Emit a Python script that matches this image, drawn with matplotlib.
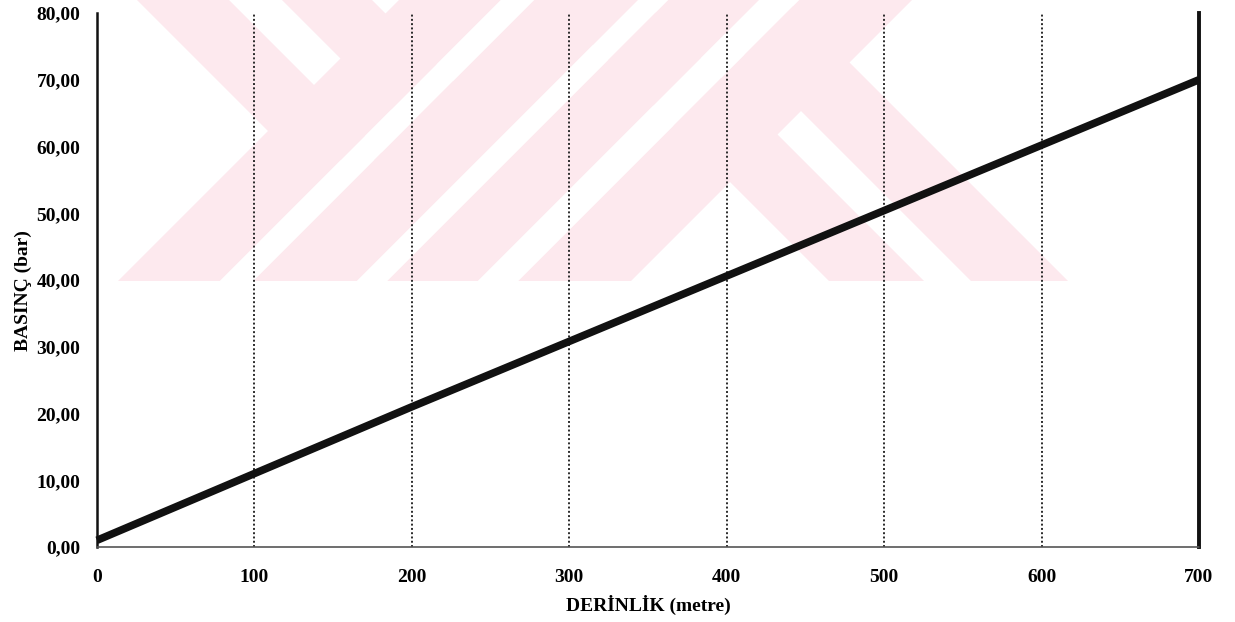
import matplotlib
matplotlib.use("Agg")
import matplotlib.pyplot as plt
from matplotlib.patches import Polygon, Rectangle

# chart data
depth = [0, 100, 200, 300, 400, 500, 600, 700]
pressure = [1.0, 11.0, 21.0, 30.8, 40.6, 50.4, 60.2, 70.0]
x_ticks = [0, 100, 200, 300, 400, 500, 600, 700]
y_ticks = [0, 10, 20, 30, 40, 50, 60, 70, 80]
x_label = "DERİNLİK (metre)"
y_label = "BASINÇ (bar)"

W, H = 1235, 622
fig = plt.figure(figsize=(W / 100, H / 100), dpi=100)

# --- faint pink watermark behind the chart (pixel coords, y down) ---
TOP, BOT = 0, 281
D = BOT - TOP
PINK = "#fde9ee"


def to_fig(pts):
    return [(x / W, 1 - y / H) for x, y in pts]


def fwd(x0, x1):
    # "/" band, x range given at the bottom edge
    return [(x0, BOT), (x1, BOT), (x1 + D, TOP), (x0 + D, TOP)]


def back(x0, x1, y_end=BOT):
    # "\" band, x range given at the top edge, cut at y_end
    return [(x0, TOP), (x1, TOP), (x1 + y_end, y_end), (x0 + y_end, y_end)]


clip = Rectangle((0, 1 - BOT / H), 1, BOT / H, transform=fig.transFigure)


def add_shape(pts, color):
    p = Polygon(to_fig(pts), closed=True, transform=fig.transFigure,
                facecolor=color, edgecolor="none", zorder=-2)
    fig.add_artist(p)
    p.set_clip_path(clip)


for a, b, e in [(137, 229, 160), (282, 372, 120), (548, 643, BOT), (690, 787, BOT)]:
    add_shape(back(a, b, e), PINK)
for a, b in [(118, 220), (253, 357), (387, 478), (518, 631)]:
    add_shape(fwd(a, b), PINK)
for a, b in [(220, 253), (357, 387), (478, 518)]:
    add_shape(fwd(a, b), "white")

# --- axes ---
ax = fig.add_axes([0.0785, 0.1206, 0.8923, 0.8585])
ax.set_facecolor("none")

font = dict(family="Liberation Serif", weight="bold", size=14)

for x in x_ticks[1:-1]:
    ax.axvline(x, color="#2a2a2a", lw=1.4, ls=(0, (1, 1.2)), zorder=1)

ax.plot(depth, pressure, color="#111111", lw=5.5, solid_capstyle="butt",
        zorder=3, clip_on=False)

ax.set_xlim(0, 700)
ax.set_ylim(0, 80)
ax.set_xticks(x_ticks)
ax.set_yticks(y_ticks)
ax.set_xticklabels([str(v) for v in x_ticks], **font)
ax.set_yticklabels([f"{v:.2f}".replace(".", ",") for v in y_ticks], **font)
ax.tick_params(axis="both", length=0)
ax.tick_params(axis="x", pad=16)
ax.tick_params(axis="y", pad=12)

ax.spines["top"].set_visible(False)
ax.spines["left"].set_linewidth(1.8)
ax.spines["left"].set_color("#111111")
ax.spines["right"].set_linewidth(2.8)
ax.spines["right"].set_color("#111111")
ax.spines["bottom"].set_linewidth(1.2)
ax.spines["bottom"].set_color("#555555")
ax.spines["bottom"].set_linestyle((0, (1, 1)))

ax.set_xlabel(x_label, labelpad=6, **font)
ax.set_ylabel(y_label, **font)
ax.yaxis.set_label_coords(-0.059, 0.48)

fig.savefig("out.png", dpi=100)
